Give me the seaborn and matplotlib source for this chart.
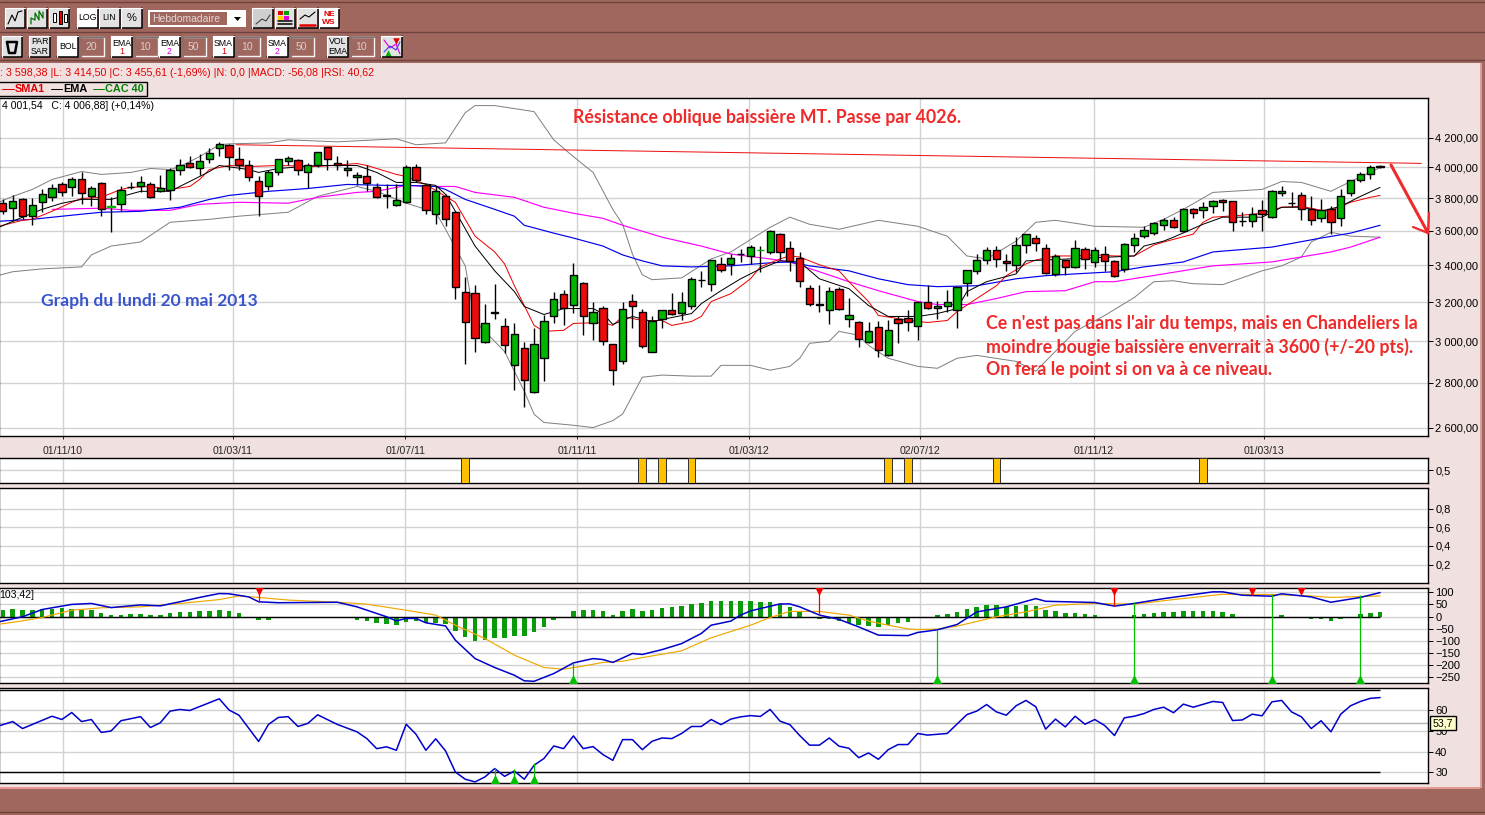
import matplotlib
matplotlib.use("Agg")
import matplotlib.pyplot as plt
from matplotlib.patches import Rectangle
import numpy as np
import seaborn as sns

W, H = 1485, 815

# weekly candles, prices
opens = [3769,3738,3793,3689,3775,3806,3888,3869,3920,3812,
         3895,3744,3762,3869,3875,3888,3844,3850,3985,4031,
         3998,4058,4131,4152,4058,4012,3907,3875,3966,4045,
         4051,3972,4012,4138,4031,3979,3933,3940,3869,3812,
         3756,3775,4005,3882,3701,3812,3713,3256,3251,2994,
         3147,3074,2882,2964,2758,2916,3125,3245,3187,3304,
         3089,3171,2984,2901,3208,3150,2945,3114,3161,3145,
         3177,3321,3299,3409,3409,3466,3454,3487,3477,3581,
         3500,3443,3277,3190,3161,3272,3114,3094,2994,3069,
         2930,3114,3119,3074,3198,3171,3177,3161,3304,3370,
         3431,3488,3426,3404,3517,3558,3500,3353,3431,3392,
         3494,3420,3465,3426,3381,3517,3569,3587,3634,3664,
         3598,3731,3725,3750,3787,3781,3662,3658,3725,3683,
         3831,3773,3818,3731,3676,3731,3676,3831,3914,3953,
         4001.54]
highs = [3793,3818,3799,3799,3856,3888,3901,3933,3966,3875,
         3901,3806,3875,3901,3940,3901,3946,3992,4058,4078,
         4091,4131,4172,4158,4138,4051,3940,3985,4058,4078,
         4058,4031,4104,4138,4078,4051,3972,4018,3895,3888,
         3888,4018,4025,3888,3875,3825,3719,3337,3294,3192,
         3299,3119,3089,2994,3064,3130,3256,3267,3415,3310,
         3198,3177,2984,3203,3245,3166,3125,3161,3251,3256,
         3337,3370,3431,3448,3465,3494,3517,3511,3604,3587,
         3540,3477,3294,3294,3283,3283,3224,3099,3094,3099,
         3109,3125,3156,3203,3294,3208,3267,3283,3376,3465,
         3505,3511,3465,3563,3581,3575,3523,3465,3431,3546,
         3505,3505,3511,3431,3529,3587,3628,3652,3676,3683,
         3738,3738,3775,3787,3793,3781,3713,3744,3787,3850,
         3875,3837,3837,3812,3793,3750,3856,3914,3966,4018,
         4018]
lows = [3701,3658,3670,3634,3713,3781,3812,3812,3762,3750,
        3689,3592,3719,3856,3837,3799,3837,3787,3946,3998,
        3946,4031,4078,3979,3979,3907,3689,3850,3946,4012,
        3946,3862,4005,3979,3985,3940,3882,3844,3799,3738,
        3750,3769,3901,3701,3640,3628,3214,2887,2945,2989,
        3114,2940,2767,2690,2753,2808,3089,3079,3145,3029,
        3004,2979,2790,2887,3064,2964,2945,3064,3135,3109,
        3166,3283,3261,3365,3348,3420,3409,3365,3465,3431,
        3370,3283,3182,3150,3084,3156,3069,2969,2989,2921,
        2925,2989,3049,3004,3166,3114,3150,3064,3235,3353,
        3409,3392,3370,3365,3471,3482,3353,3343,3348,3387,
        3381,3392,3370,3337,3365,3477,3558,3575,3604,3616,
        3592,3676,3676,3707,3719,3598,3628,3622,3598,3676,
        3812,3744,3664,3634,3652,3581,3628,3812,3901,3920,
        3998]
closes = [3719,3781,3689,3756,3825,3862,3837,3920,3831,3862,
          3731,3750,3850,3869,3901,3806,3862,3979,4018,4005,
          4045,4098,4158,4071,4018,3933,3812,3966,4058,4065,
          3979,4018,4104,4058,4018,3992,3946,3895,3806,3818,
          3787,4005,3914,3725,3844,3670,3283,3094,3014,3089,
          3143,2979,3034,2813,2984,3099,3214,3171,3348,3125,
          3150,2999,2859,3166,3177,2974,3104,3161,3140,3198,
          3326,3319,3431,3376,3443,3464,3505,3489,3598,3477,
          3426,3315,3192,3186,3261,3166,3130,3009,3049,2954,
          3054,3089,3094,3198,3171,3177,3198,3283,3376,3431,
          3488,3437,3415,3517,3581,3529,3359,3454,3392,3500,
          3437,3488,3426,3343,3523,3558,3604,3646,3664,3622,
          3731,3707,3744,3781,3775,3652,3660,3701,3701,3844,
          3844,3771,3731,3664,3725,3652,3812,3914,3953,4005,
          4006.88]
green_dash_weeks = [11, 77]

sma_weeks = [-0.4,2,3,5,7,8,10,12,13,15,17,19,20,21,23,25,28,32,36,37,40,41,43,45,46,47,48,50,51,52,53,54,55,57,58,61,62,63,65,67,68,70,71,72,74,76,77,79,80,81,83,85,86,88,89,91,93,94,96,97,99,101,102,104,105,107,109,111,113,115,117,118,121,122,123,126,128,130,132,134,135,137,139,140]
sma_vals = [3628,3664,3670,3719,3775,3799,3806,3856,3869,3875,3856,3875,3920,3985,4012,4005,4012,4005,4025,4012,3953,3940,3888,3812,3775,3670,3569,3477,3409,3288,3182,3079,3049,3054,3089,3094,3079,3125,3104,3104,3079,3099,3125,3203,3245,3326,3392,3437,3454,3448,3404,3370,3310,3203,3130,3114,3099,3094,3104,3150,3219,3288,3343,3409,3431,3454,3454,3460,3454,3454,3517,3535,3581,3652,3683,3695,3707,3744,3750,3725,3725,3775,3806,3818]
ema_weeks = [-0.4,2,4,6,8,11,14,17,19,21,22,25,26,28,32,36,38,40,42,44,45,46,48,50,52,53,55,57,60,61,62,64,66,70,71,73,75,77,79,81,83,86,88,90,93,95,97,98,100,103,104,106,115,116,118,119,122,124,128,130,132,134,136,138,140]
ema_vals = [3622,3683,3731,3769,3793,3793,3844,3844,3907,3972,4012,3985,3966,3992,4012,4012,3966,3901,3901,3882,3825,3719,3511,3370,3256,3177,3135,3166,3166,3140,3084,3125,3099,3140,3192,3261,3326,3381,3426,3420,3326,3272,3182,3125,3125,3140,3166,3256,3310,3353,3426,3431,3454,3511,3540,3563,3640,3683,3683,3744,3744,3719,3750,3812,3869]
ema50_weeks = [-0.4,3,7,10,14,18,21,23,27,31,35,39,41,44,45,47,50,52,53,56,58,61,63,65,67,70,74,78,80,82,86,89,92,95,99,103,106,109,113,116,120,123,129,134,137,140]
ema50_vals = [3658,3670,3695,3713,3719,3744,3793,3818,3844,3862,3888,3882,3882,3875,3856,3793,3731,3689,3634,3587,3558,3511,3460,3426,3398,3392,3398,3415,3420,3398,3370,3326,3294,3283,3288,3326,3343,3353,3365,3392,3420,3477,3505,3558,3587,3634]
sma50_weeks = [5,10,13,17,20,24,29,32,36,38,41,44,46,48,52,55,58,61,63,67,71,74,78,80,83,86,89,93,95,98,101,104,108,111,113,118,123,129,135,137,140]
sma50_vals = [3731,3738,3725,3725,3762,3775,3769,3806,3837,3844,3882,3875,3875,3837,3806,3744,3707,3676,3634,3563,3511,3465,3437,3420,3365,3310,3261,3203,3187,3187,3219,3256,3261,3310,3310,3353,3398,3420,3477,3505,3563]
boll_up_weeks = [-0.4,1,3,5,8,10,13,15,17,18,20,22,23,27,29,34,40,42,45,47,48,50,54,56,58,60,62,63,64,65,66,69,72,74,78,80,82,85,89,93,96,98,100,103,105,107,111,116,118,120,123,128,130,132,135,137,140]
boll_up_vals = [3775,3812,3856,3920,3972,3953,3966,3992,3985,4005,4071,4152,4158,4165,4186,4172,4193,4152,4165,4378,4430,4430,4386,4186,4071,3966,3731,3640,3465,3348,3321,3331,3437,3477,3622,3683,3640,3610,3664,3628,3569,3454,3437,3540,3652,3664,3628,3622,3670,3731,3837,3856,3907,3901,3844,3907,3998]
boll_lo_weeks = [-0.4,1,4,8,9,11,14,17,21,24,29,32,36,38,41,44,45,47,48,51,53,54,55,58,60,62,63,65,67,70,72,73,76,78,80,81,82,84,85,87,88,90,93,95,97,99,103,105,109,112,115,117,119,121,124,128,130,132,133,135,137,140]
boll_lo_vals = [3345,3365,3381,3392,3460,3511,3535,3652,3670,3689,3713,3812,3875,3844,3769,3713,3610,3398,3099,2949,2762,2658,2622,2610,2600,2630,2659,2826,2836,2831,2831,2882,2882,2859,2877,2916,2989,2999,3049,3029,2979,2916,2877,2868,2916,2930,2901,2854,3049,3130,3224,3310,3315,3299,3294,3370,3398,3448,3535,3592,3569,3563]
resistance_weeks = [23.7, 144.2]
resistance_vals = [4152, 4026]

signal_weeks = [47, 65, 67, 70, 90, 92, 101, 122]

hist_vals = [26,29,25,25,29,33,36,33,28,26,14,6,8,10,10,7,7,14,17,18,
             21,22,26,22,14,0,-15,-15,-6,0,-5,-5,0,0,0,-5,-14,-19,-28,-32,
             -36,-23,-18,-26,-25,-32,-61,-84,-102,-98,-90,-90,-80,-80,-65,-44,-15,0,22,26,
             26,22,6,22,30,22,26,34,39,43,51,55,63,63,63,63,63,59,59,51,
             39,19,0,-11,-11,-19,-28,-36,-40,-44,-36,-28,-22,-5,0,6,10,18,30,39,
             47,47,40,44,47,43,26,22,14,14,10,6,0,-4,0,6,10,14,18,18,
             22,22,22,22,18,10,0,0,0,0,6,0,0,-10,-10,-19,-11,0,10,14,18]
macd_weeks = [-0.4,2,4,7,9,11,14,16,18,20,22,23,25,26,28,34,36,39,40,41,42,43,45,46,48,50,52,53,54,56,58,60,61,62,64,65,67,69,71,72,74,75,76,77,79,80,81,83,85,87,89,92,93,95,97,99,102,105,106,111,113,115,118,123,124,126,129,130,133,135,138,140]
macd_vals = [-22,-1,29,50,54,37,48,44,61,79,95,94,81,61,57,59,40,-1,-18,-8,-8,-26,-39,-98,-174,-211,-243,-266,-268,-236,-192,-174,-178,-190,-153,-157,-137,-112,-70,-36,-19,6,23,33,52,52,40,6,-12,-43,-77,-79,-66,-55,-33,19,40,74,63,58,43,54,74,102,102,88,84,94,81,59,79,99]
signal_line_weeks = [-0.4,2,4,7,10,14,18,22,24,26,29,34,37,41,44,46,49,52,55,57,59,61,63,65,69,72,76,78,80,83,86,88,90,92,93,95,97,101,104,107,111,115,119,124,129,133,135,140]
signal_line_vals = [-32,-18,-4,26,36,40,54,70,85,79,68,59,51,26,6,-36,-91,-160,-211,-218,-205,-190,-185,-170,-142,-88,-36,-4,21,21,6,-19,-36,-51,-54,-52,-40,-1,19,47,54,51,70,92,91,85,79,85]
macd_sell_weeks = [26, 83, 113, 127, 132]
macd_sell_tips = [61, 6, 43, 88, 92]
macd_buy_weeks = [58, 95, 115, 129, 138]
macd_buy_tips = [-192, -55, 58, 92, 88]

rsi_weeks = [-0.4,1,2,5,6,7,8,9,10,11,12,14,15,16,17,18,19,22,23,24,26,27,28,29,30,31,32,34,36,37,38,39,40,41,42,43,44,45,46,47,48,49,50,51,52,53,54,55,56,57,58,59,60,61,62,63,64,65,66,67,68,69,70,71,72,73,74,75,76,77,78,79,80,81,82,83,84,85,86,87,88,89,90,91,92,93,94,96,98,99,100,101,102,103,104,105,106,107,108,109,110,111,112,113,114,115,116,117,118,119,120,121,123,124,125,126,127,128,129,130,131,132,133,134,135,136,137,138,139,140]
rsi_vals = [52.5,54.6,51.2,57.2,55.6,59,54.6,55.6,49.3,50,55,57,51.7,54,59.7,60.5,60,65.7,60.2,57.7,44.9,53.2,56.6,57,52.2,53.7,57.9,53.2,49.6,46.3,41.4,42.3,40.6,53.3,48.4,40.6,46.2,40.3,30,26.5,25.2,27.6,31.7,27.9,30.5,26.5,33.3,36.6,42.7,41.4,47.6,41.4,42.4,38.5,35.7,45.8,45.8,40.9,45,46.6,46.3,48.8,52.2,52.2,55.6,53.1,55.8,56.9,57.5,57.1,60.5,54.8,53.1,47.8,43.1,43.1,46.6,42.6,41.6,37,39.3,36.2,40.9,43.4,43.4,48.8,48,48.8,58,59.7,62.9,59.3,57.7,62.3,64.9,61.8,50.9,55.8,52,57.2,53.3,55.6,52.7,47.8,56.4,57.2,58.5,60.5,61.6,58.9,63.1,61.6,64.4,63.9,55.1,55.4,58.2,57.4,64.2,64.9,59.3,56.9,51.2,55,49.6,58.2,62.3,64.4,65.9,66.3]
rsi_buy_weeks = [50, 52, 54]
rsi_buy_tips = [31.9, 31.3, 34.4]

date_weeks = [6.11, 23.4, 40.9, 58.4, 75.85, 93.2, 110.9, 128.2]
date_labels = ["01/11/10", "01/03/11", "01/07/11", "01/11/11", "01/03/12", "02/07/12", "01/11/12", "01/03/13"]
price_ticks = [4200, 4000, 3800, 3600, 3400, 3200, 3000, 2800, 2600]
price_labels = ["4 200,00", "4 000,00", "3 800,00", "3 600,00", "3 400,00", "3 200,00", "3 000,00", "2 800,00", "2 600,00"]
macd_ticks = [100, 50, 0, -50, -100, -150, -200, -250]
rsi_ticks = [60, 50, 40, 30]
low_ticks = [0.8, 0.6, 0.4, 0.2]
low_labels = ["0,8", "0,6", "0,4", "0,2"]

sns.set_style("white")
plt.rcParams["font.family"] = ["Liberation Sans", "DejaVu Sans"]

BROWN = "#a0675f"
PINK = "#f0e0e0"
GRID = "#d2d2d2"
RED_TEXT = "#ee2a2a"
X_LEFT = -0.392
X_RIGHT = 144.9
THIN = 0.72
THICK = 1.1


def panel(top, bottom, ylim, yticks, ylabels=None):
    ax = fig.add_axes([-1 / W, 1 - bottom / H, 1429.3 / W, (bottom - top) / H], zorder=2)
    ax.set_facecolor("white")
    ax.set_xlim(X_LEFT, X_RIGHT)
    ax.set_ylim(*ylim)
    ax.set_xticks(date_weeks)
    ax.set_yticks(yticks)
    if ylabels:
        ax.set_yticklabels(ylabels)
    ax.yaxis.tick_right()
    ax.tick_params(axis="y", length=3.5, width=THIN, labelsize=8, pad=1.5, colors="black")
    ax.tick_params(axis="x", bottom=False, labelbottom=False)
    ax.grid(True, color=GRID, lw=1.0)
    ax.set_axisbelow(True)
    for spine in ax.spines.values():
        spine.set_color("black")
        spine.set_linewidth(1.0)
    return ax


def draw_line(ax, weeks, vals, color, lw=THIN, z=2):
    sns.lineplot(x=weeks, y=vals, ax=ax, color=color, lw=lw, estimator=None,
                 errorbar=None, sort=False, legend=False, zorder=z)


def draw_triangles(ax, weeks, vals, marker, color, size=42):
    sns.scatterplot(x=weeks, y=vals, ax=ax, marker=marker, s=size, color=color,
                    linewidth=0, legend=False, zorder=7)


def button(x0, y0, x1, y1, face="#e2e2e2", label=None, size=6.3, color="black", y_label=None):
    chrome.add_patch(Rectangle((x0, y0), x1 - x0, y1 - y0, fc=face, ec="none"))
    chrome.plot([x0, x1, x1], [y1, y1, y0], color="black", lw=1.1)
    chrome.plot([x0, x0, x1], [y1, y0, y0], color="white", lw=0.8)
    if label:
        chrome.text((x0 + x1) / 2, y_label or (y0 + y1) / 2, label, ha="center", va="center",
                    fontsize=size, color=color, linespacing=1.0)


def field(x0, y0, x1, y1, label):
    chrome.add_patch(Rectangle((x0, y0), x1 - x0, y1 - y0, fc=BROWN, ec="none"))
    chrome.plot([x0, x1, x1, x0], [y1, y1, y0, y0], color="#f4f4f4", lw=1.0)
    chrome.plot([x0, x0, x1], [y1, y0, y0], color="#777777", lw=1.0)
    chrome.text((x0 + x1) / 2 - 1, (y0 + y1) / 2, label, ha="center", va="center",
                fontsize=7.5, color="#d8d0d0")


fig = plt.figure(figsize=(W / 100, H / 100), dpi=100, facecolor=PINK)

# window chrome behind the panels
chrome = fig.add_axes([0, 0, 1, 1], zorder=0)
chrome.set_xlim(0, W)
chrome.set_ylim(H, 0)
chrome.axis("off")
chrome.add_patch(Rectangle((0, 0), W, 63, fc=BROWN, ec="none"))
chrome.add_patch(Rectangle((0, 787), W, 28, fc=BROWN, ec="none"))
chrome.add_patch(Rectangle((0, 787), W, 2, fc="#e49a92", ec="none"))
chrome.add_patch(Rectangle((1480, 0), 5, H, fc=BROWN, ec="none"))
chrome.add_patch(Rectangle((1480, 63), 2, 725, fc="#dda098", ec="none"))
for y in [2, 32, 60, 812]:
    chrome.plot([0, W], [y, y], color="#6e423c", lw=1.0)

for x0, x1 in [(5, 25), (27, 47), (49, 69)]:
    button(x0, 8, x1, 28)
chrome.plot([8, 12, 15, 18, 22], [24, 15, 21, 12, 11], color="black", lw=0.8)
chrome.plot([31, 31, 35, 35, 39, 39, 43, 43], [24, 18, 20, 13, 20, 11, 18, 12], color="#007000", lw=0.9)
chrome.add_patch(Rectangle((53, 13), 3, 9, fc="white", ec="black", lw=0.7))
chrome.add_patch(Rectangle((59, 11), 3, 13, fc="#e00000", ec="black", lw=0.7))
chrome.add_patch(Rectangle((64, 14), 3, 8, fc="white", ec="black", lw=0.7))
button(77, 8, 98, 28, "white", "LOG")
button(99, 8, 120, 28, label="LIN")
button(121, 8, 142, 28, label="%", size=8)
chrome.add_patch(Rectangle((148, 10), 98, 17, fc="white", ec="none"))
chrome.add_patch(Rectangle((150, 12), 77, 13, fc=BROWN, ec="none"))
chrome.text(152, 18.5, "Hebdomadaire", va="center", fontsize=7.5, color="#e4d8d8")
chrome.fill([234, 241, 237.5], [17, 17, 21], color="black", lw=0)
for x0, x1, face in [(252, 273, "#cfcfcf"), (275, 295, "#e2e2e2"), (297, 318, "#e2e2e2"), (319, 339, "white")]:
    button(x0, 8, x1, 28, face)
chrome.plot([256, 262, 266, 270], [24, 19, 21, 15], color="#444444", lw=0.8)
for i, c in enumerate(["#e00000", "#00a000", "#ffd000", "#e000e0"]):
    chrome.add_patch(Rectangle((278 + 6 * (i % 2), 11 + 5 * (i // 2)), 5, 4, fc=c, ec="none"))
chrome.plot([278, 292], [21, 21], color="black", lw=1.1)
chrome.plot([278, 292], [24, 24], color="black", lw=1.1)
chrome.plot([300, 305, 309, 315], [19, 15, 17, 12], color="black", lw=0.8)
chrome.plot([300, 315], [25, 25], color="#e00000", lw=1.8)
chrome.text(329, 14, "NE", ha="center", va="center", fontsize=6, color="#e00000", weight="bold")
chrome.text(329, 22, "WS", ha="center", va="center", fontsize=6, color="#e00000", weight="bold")

button(2, 36, 22, 57)
chrome.plot([7, 17, 15, 9, 7], [42, 42, 53, 53, 42], color="black", lw=1.8)
button(29, 36, 50, 57, label="PAR\nSAR")
button(57, 36, 78, 57, "white", "BOL")
field(81, 37, 104, 56, "20")
button(111, 36, 132, 57, "white", "EMA", y_label=43)
chrome.text(121.5, 52, "1", ha="center", va="center", fontsize=6.3, color="#e00000")
field(135, 37, 158, 56, "10")
button(159, 36, 180, 57, "white", "EMA", y_label=43)
chrome.text(169.5, 52, "2", ha="center", va="center", fontsize=6.3, color="#e000e0")
field(183, 37, 206, 56, "50")
button(213, 36, 234, 57, "white", "SMA", y_label=43)
chrome.text(223.5, 52, "1", ha="center", va="center", fontsize=6.3, color="#e00000")
field(237, 37, 260, 56, "10")
button(267, 36, 288, 57, "white", "SMA", y_label=43)
chrome.text(277.5, 52, "2", ha="center", va="center", fontsize=6.3, color="#e000e0")
field(291, 37, 314, 56, "50")
button(327, 36, 348, 57, label="VOL\nEMA")
field(351, 37, 374, 56, "10")
button(381, 36, 402, 57)
chrome.plot([384, 390, 396, 400], [40, 48, 44, 54], color="#e000e0", lw=0.8)
chrome.plot([384, 390, 396, 400], [52, 46, 50, 42], color="#4040e0", lw=0.8)
chrome.scatter([396], [41], marker="v", s=22, color="#e00000", linewidths=0)
chrome.scatter([388], [53], marker="^", s=22, color="#00b000", linewidths=0)

chrome.text(0, 73, ": 3 598,38 |L: 3 414,50 |C: 3 455,61 (-1,69%) |N: 0,0 |MACD: -56,08 |RSI: 40,62",
            va="center", fontsize=7.7, color="#e00000")
chrome.add_patch(Rectangle((-2, 82), 149, 14, fc=PINK, ec="black", lw=1.0))
chrome.plot([2, 14], [89, 89], color="#e00000", lw=THIN)
chrome.text(15, 89, "SMA1", va="center", fontsize=7.8, weight="bold", color="#e00000")
chrome.plot([51, 62], [89, 89], color="black", lw=THIN)
chrome.text(63, 89, "EMA", va="center", fontsize=7.8, weight="bold", color="black")
chrome.plot([93, 104], [89, 89], color="#008000", lw=THIN)
chrome.text(105, 89, "CAC 40", va="center", fontsize=7.8, weight="bold", color="#008000")

# price panel
ax_price = panel(98, 436, (2564, 4486), price_ticks)
ax_price.set_yscale("log")
ax_price.set_ylim(2564, 4486)
ax_price.set_yticks(price_ticks)
ax_price.set_yticklabels(price_labels)
ax_price.minorticks_off()
ax_price.tick_params(axis="x", bottom=True, labelbottom=True, length=2.5, width=THIN, labelsize=7.6, pad=5)
ax_price.set_xticklabels(date_labels)

draw_line(ax_price, boll_up_weeks, boll_up_vals, "#808080")
draw_line(ax_price, boll_lo_weeks, boll_lo_vals, "#808080")
draw_line(ax_price, sma50_weeks, sma50_vals, "#ff00ff", lw=0.85)
draw_line(ax_price, ema50_weeks, ema50_vals, "#0000ee", lw=0.85)
draw_line(ax_price, sma_weeks, sma_vals, "#ee0000")
draw_line(ax_price, ema_weeks, ema_vals, "black")
draw_line(ax_price, resistance_weeks, resistance_vals, "#ee1111")

weeks = np.arange(len(opens))
o, h, l, c = map(np.array, (opens, highs, lows, closes))
ax_price.vlines(weeks, l, h, color="black", lw=1.0, zorder=3)
body_low = np.minimum(o, c)
body_high = np.maximum(o, c)
body_colors = ["#00b400" if cl >= op else "#ee0a0a" for op, cl in zip(o, c)]
edge_colors = ["#00b400" if w in green_dash_weeks else "black" for w in weeks]
ax_price.bar(weeks, body_high - body_low, bottom=body_low, width=0.74, color=body_colors,
             edgecolor=edge_colors, linewidth=1.0, zorder=4)
ax_price.set_xlim(X_LEFT, X_RIGHT)

# signal strip
ax_sig = panel(457.5, 482.5, (0, 1), [0.5], ["0,5"])
ax_sig.bar(signal_weeks, [1] * len(signal_weeks), width=0.78, color="#ffc000", edgecolor="#303030",
           linewidth=0.7, zorder=3)
ax_sig.set_xlim(X_LEFT, X_RIGHT)
ax_sig.set_ylim(0, 1)

# empty volume panel
ax_vol = panel(487.5, 582.5, (0.008, 1.025), low_ticks, low_labels)

# MACD
ax_macd = panel(587.5, 682.5, (-273, 120), macd_ticks)
sns.barplot(x=list(range(len(hist_vals))), y=hist_vals, ax=ax_macd, native_scale=True, width=0.46,
            color="#0a9a0a", saturation=1, linewidth=0, zorder=2)
ax_macd.hlines(0, X_LEFT, 140, color="black", lw=1.0, zorder=3)
draw_line(ax_macd, signal_line_weeks, signal_line_vals, "#f0a800", lw=0.85, z=4)
draw_line(ax_macd, macd_weeks, macd_vals, "#0000cc", lw=THICK, z=5)
ax_macd.vlines(macd_sell_weeks, macd_sell_tips, 120, color="#ee0000", lw=0.9, zorder=6)
ax_macd.vlines(macd_buy_weeks, -273, macd_buy_tips, color="#00c000", lw=0.9, zorder=6)
draw_triangles(ax_macd, macd_sell_weeks, [106] * len(macd_sell_weeks), "v", "#ee0000")
draw_triangles(ax_macd, macd_buy_weeks, [-260] * len(macd_buy_weeks), "^", "#00c000")
ax_macd.set_xlim(X_LEFT, X_RIGHT)
ax_macd.set_ylim(-273, 120)
ax_macd.set_xlabel("")
ax_macd.set_ylabel("")
ax_macd.set_yticks(macd_ticks)
ax_macd.yaxis.tick_right()
ax_macd.tick_params(axis="x", bottom=False, labelbottom=False)
ax_macd.set_xticks(date_weeks)
ax_macd.grid(True, color=GRID, lw=1.0)

# RSI
ax_rsi = panel(687.5, 782.5, (24.9, 71.2), rsi_ticks)
ax_rsi.axhline(53.7, color="#b4b4b4", lw=1.0, zorder=1)
ax_rsi.hlines([30, 70], X_LEFT, 140, color="black", lw=1.0, zorder=2)
draw_line(ax_rsi, rsi_weeks, rsi_vals, "#0000cc", lw=THICK, z=3)
ax_rsi.vlines(rsi_buy_weeks, 24.9, rsi_buy_tips, color="#00c000", lw=0.9, zorder=4)
draw_triangles(ax_rsi, rsi_buy_weeks, [26.4] * 3, "^", "#00c000")

# annotations above everything
top = fig.add_axes([0, 0, 1, 1], zorder=5)
top.patch.set_alpha(0)
top.set_xlim(0, W)
top.set_ylim(H, 0)
top.axis("off")

top.text(2, 106, "4 001,54   C: 4 006,88] (+0,14%)", va="center", fontsize=7.6, color="black")
top.text(-1, 595, "103,42]", va="center", fontsize=7.6, color="black")
top.text(573, 117, "Résistance oblique baissière MT. Passe par 4026.", va="center",
         family="Lato", weight="bold", fontsize=12.8, color=RED_TEXT)
top.text(41, 301, "Graph du lundi 20 mai 2013", va="center", family="Lato", weight="bold",
         fontsize=12.6, color="#3a55cc")
for y, line in zip([324, 347, 370], ["Ce n'est pas dans l'air du temps, mais en Chandeliers la",
                                     "moindre bougie baissière enverrait à 3600 (+/-20 pts).",
                                     "On fera le point si on va à ce niveau."]):
    top.text(986, y, line, va="center", family="Lato", weight="bold", fontsize=12.8, color=RED_TEXT)

# hand drawn arrow
top.plot([1391, 1428], [165, 233], color=RED_TEXT, lw=2.2)
top.plot([1413, 1428, 1429], [227, 233, 213], color=RED_TEXT, lw=1.6)

# current RSI tag
top.add_patch(Rectangle((1430, 716), 26, 14, fc="#ffffcc", ec="black", lw=1.0))
top.text(1443, 723, "53,7", ha="center", va="center", fontsize=7.6, color="black")

fig.savefig("out.png", dpi=100, facecolor=PINK)
